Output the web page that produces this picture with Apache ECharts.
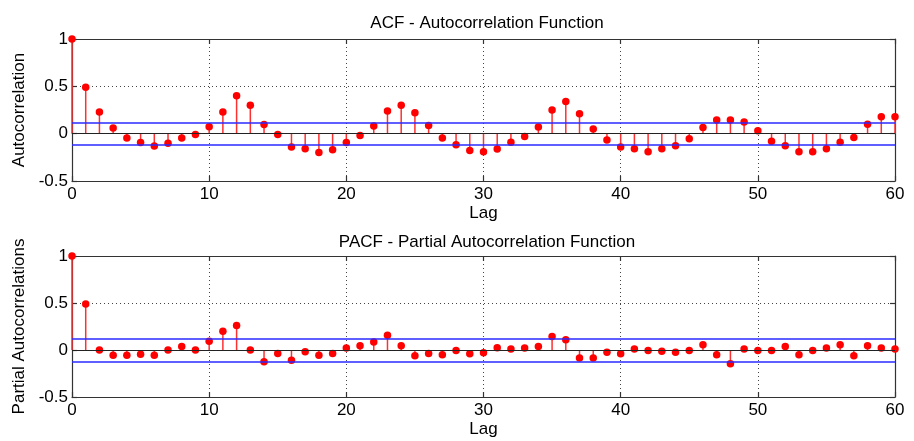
<!DOCTYPE html>
<html><head><meta charset="utf-8">
<script src="https://cdn.jsdelivr.net/npm/echarts@6/dist/echarts.min.js"></script>
<style>html,body{margin:0;padding:0;background:#fff}#c{width:914px;height:441px}</style>
</head><body><div id="c"></div>
<script>
// ACF values for lags 0..60
const acfValues = [1, 0.49, 0.23, 0.06, -0.046, -0.092, -0.13, -0.10, -0.046, -0.01,
  0.074, 0.23, 0.40, 0.30, 0.096, -0.01, -0.14, -0.16, -0.20, -0.17,
  -0.093, -0.02, 0.08, 0.24, 0.30, 0.22, 0.085, -0.046, -0.117, -0.177,
  -0.19, -0.163, -0.09, -0.03, 0.07, 0.25, 0.34, 0.21, 0.05, -0.067,
  -0.14, -0.16, -0.19, -0.16, -0.128, -0.053, 0.064, 0.145, 0.145, 0.124,
  0.03, -0.08, -0.128, -0.19, -0.19, -0.16, -0.09, -0.04, 0.10, 0.18, 0.18];
// PACF values for lags 0..60
const pacfValues = [1, 0.49, 0, -0.057, -0.057, -0.046, -0.057, 0, 0.036, 0,
  0.093, 0.20, 0.26, 0, -0.125, -0.036, -0.11, -0.018, -0.057, -0.036,
  0.02, 0.046, 0.086, 0.157, 0.046, -0.06, -0.036, -0.05, -0.004, -0.04,
  -0.03, 0.025, 0.01, 0.02, 0.036, 0.143, 0.11, -0.086, -0.086, -0.025,
  -0.04, 0.01, -0.004, -0.014, -0.025, -0.004, 0.057, -0.05, -0.146, 0.01,
  -0.004, -0.004, 0.036, -0.05, -0.004, 0.02, 0.057, -0.06, 0.046, 0.02, 0.01];
const confBound = [0.117, -0.117];
const titles = ['ACF - Autocorrelation Function', 'PACF - Partial Autocorrelation Function'];
const yNames = ['Autocorrelation', 'Partial Autocorrelations'];
const xName = 'Lag';

const font = '"Liberation Sans", Arial, sans-serif';

const chart = echarts.init(document.getElementById('c'));
const grids = [
  {left: 72, right: 19, top: 39, height: 142},
  {left: 72, right: 19, top: 256, height: 141}
];
const xAxes = [], yAxes = [], series = [];
[acfValues, pacfValues].forEach((vals, g) => {
  const pts = vals.map((v, i) => [i, v]);
  const lineStyle = {color: '#333', width: 1.2};
  xAxes.push({
    gridIndex: g, type: 'value', min: 0, max: 60, interval: 10, position: 'bottom',
    name: xName, nameLocation: 'middle', nameGap: 24,
    nameTextStyle: {fontFamily: font, fontSize: 17, color: '#000'},
    axisLine: {onZero: false, lineStyle},
    axisTick: {inside: true, length: 5, lineStyle},
    axisLabel: {fontFamily: font, fontSize: 17, color: '#000', margin: 5},
    splitLine: {show: true, lineStyle: {type: [1, 3], color: '#444', width: 1}}
  });
  xAxes.push({
    gridIndex: g, type: 'value', min: 0, max: 60, interval: 10, position: 'top',
    axisLine: {onZero: false, lineStyle},
    axisTick: {inside: true, length: 5, lineStyle},
    axisLabel: {show: false}, splitLine: {show: false}
  });
  yAxes.push({
    gridIndex: g, type: 'value', min: -0.5, max: 1, interval: 0.5, position: 'left',
    name: yNames[g], nameLocation: 'middle', nameGap: 40, nameRotate: 90,
    nameTextStyle: {fontFamily: font, fontSize: 17, color: '#000'},
    axisLine: {show: true, onZero: false, lineStyle},
    axisTick: {show: true, inside: true, length: 5, lineStyle},
    axisLabel: {fontFamily: font, fontSize: 17, color: '#000', margin: 4},
    splitLine: {show: true, lineStyle: {type: [1, 3], color: '#444', width: 1}}
  });
  yAxes.push({
    gridIndex: g, type: 'value', min: -0.5, max: 1, interval: 0.5, position: 'right',
    axisLine: {show: true, onZero: false, lineStyle},
    axisTick: {show: true, inside: true, length: 5, lineStyle},
    axisLabel: {show: false}, splitLine: {show: false}
  });
  const xi = g * 2, yi = g * 2;
  series.push({
    type: 'line', xAxisIndex: xi, yAxisIndex: yi, data: [], z: 2, silent: true,
    markLine: {
      silent: true, symbol: 'none', label: {show: false}, animation: false,
      data: [
        {yAxis: 0, lineStyle: {color: '#222', width: 1.2, type: 'solid'}},
        {yAxis: confBound[0], lineStyle: {color: '#2a2aff', width: 1.6, type: 'solid'}},
        {yAxis: confBound[1], lineStyle: {color: '#2a2aff', width: 1.6, type: 'solid'}}
      ]
    }
  });
  series.push({
    type: 'custom', xAxisIndex: xi, yAxisIndex: yi, data: pts, z: 3, clip: false,
    renderItem: (params, api) => {
      const p0 = api.coord([api.value(0), 0]);
      const p1 = api.coord([api.value(0), api.value(1)]);
      return {type: 'line', shape: {x1: p0[0], y1: p0[1], x2: p1[0], y2: p1[1]},
        style: {stroke: '#ff3030', lineWidth: 1.5}};
    }
  });
  series.push({
    type: 'scatter', xAxisIndex: xi, yAxisIndex: yi, data: pts, z: 4,
    symbolSize: 7.5, itemStyle: {color: '#ff0000', opacity: 1}, clip: false
  });
});

chart.setOption({
  animation: false,
  backgroundColor: '#fff',
  title: [
    {text: titles[0], left: 482, top: 10, textAlign: 'center',
      textStyle: {fontFamily: font, fontSize: 17, fontWeight: 'normal', color: '#000'}},
    {text: titles[1], left: 482, top: 229, textAlign: 'center',
      textStyle: {fontFamily: font, fontSize: 17, fontWeight: 'normal', color: '#000'}}
  ],
  grid: grids,
  xAxis: xAxes,
  yAxis: yAxes,
  series
});
</script></body></html>
